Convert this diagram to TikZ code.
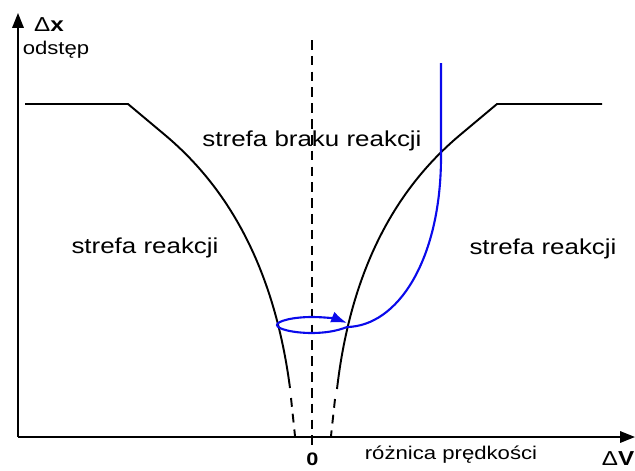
\documentclass[tikz,border=0pt]{standalone}
\usepackage{fontspec}
\setmainfont{Liberation Sans}[FakeStretch=1.2]
\usetikzlibrary{arrows.meta}
\definecolor{cgranica}{RGB}{0,0,0}
\definecolor{cjazda}{RGB}{10,10,235}

\begin{document}
\begin{tikzpicture}[x=0.02cm, y=-0.02cm,
    os/.style={line width=1.1pt, -{Triangle[length=8.5pt, width=6.5pt]}},
    granica/.style={draw=cgranica, line width=1.1pt, line join=round},
    granicaprzer/.style={draw=cgranica, line width=1.1pt, dash pattern=on 5pt off 4pt},
    srodek/.style={line width=1.1pt, dash pattern=on 5.5pt off 3.5pt},
    jazda/.style={draw=cjazda, line width=1.2pt},
    strefa/.style={font=\fontsize{12.3}{14}\selectfont},
    opis/.style={font=\fontsize{10.5}{12}\selectfont},
    oznacz/.style={font=\fontsize{11.5}{13}\selectfont}]

  \useasboundingbox (0,0) rectangle (635,470);

  % --- osie ---
  \coordinate (O) at (18,437);
  \coordinate (ykon) at (18,13);
  \coordinate (xkon) at (635,437);
  \draw[os] (O) -- (ykon);
  \draw[os] (O) -- (xkon);

  \node[oznacz] (dx) at (49,25) {Δ\textbf{x}};
  \node[opis] (odstep) at (56,50) {odstęp};
  \node[opis, font=\fontsize{10.3}{12}\selectfont\bfseries] (zero) at (312.5,459.5) {0};
  \node[opis] (roznica) at (451,455) {różnica prędkości};
  \node[oznacz] (dv) at (618,459) {Δ\textbf{V}};

  % --- linia srodkowa ---
  \coordinate (sgora) at (312,40);
  \coordinate (sdol) at (312,445);
  \draw[srodek] (sgora) -- (sdol);

  % --- granice strefy ---
  \draw[granica] (25,104) -- (128,104) -- (165,135)
        .. controls (215,177) and (272,250) .. (290,388);
  \draw[granica] (602,104) -- (497,104) -- (460,135)
        .. controls (410,177) and (353,250) .. (337,389);
  \draw[granicaprzer] (291,398) -- (295,436);
  \draw[granicaprzer] (335,399) -- (331,436);

  % --- strefy ---
  \node[strefa] (brak) at (312,141) {strefa braku reakcji};
  \node[strefa] (reakcjaL) at (145,248) {strefa reakcji};
  \node[strefa] (reakcjaP) at (543,249) {strefa reakcji};

  % --- przebieg jazdy ---
  \draw[jazda, -{Latex[length=9pt, width=6.5pt]}] (441,63) -- (441,160)
        .. controls (440,260) and (398,326) .. (347,327)
        .. controls (337,331) and (325,333) .. (312,333)
        .. controls (293,333) and (277,329) .. (277,325)
        .. controls (277,321) and (293,317) .. (312,317)
        .. controls (325,317) and (337,319) .. (347,323);
\end{tikzpicture}
\end{document}
